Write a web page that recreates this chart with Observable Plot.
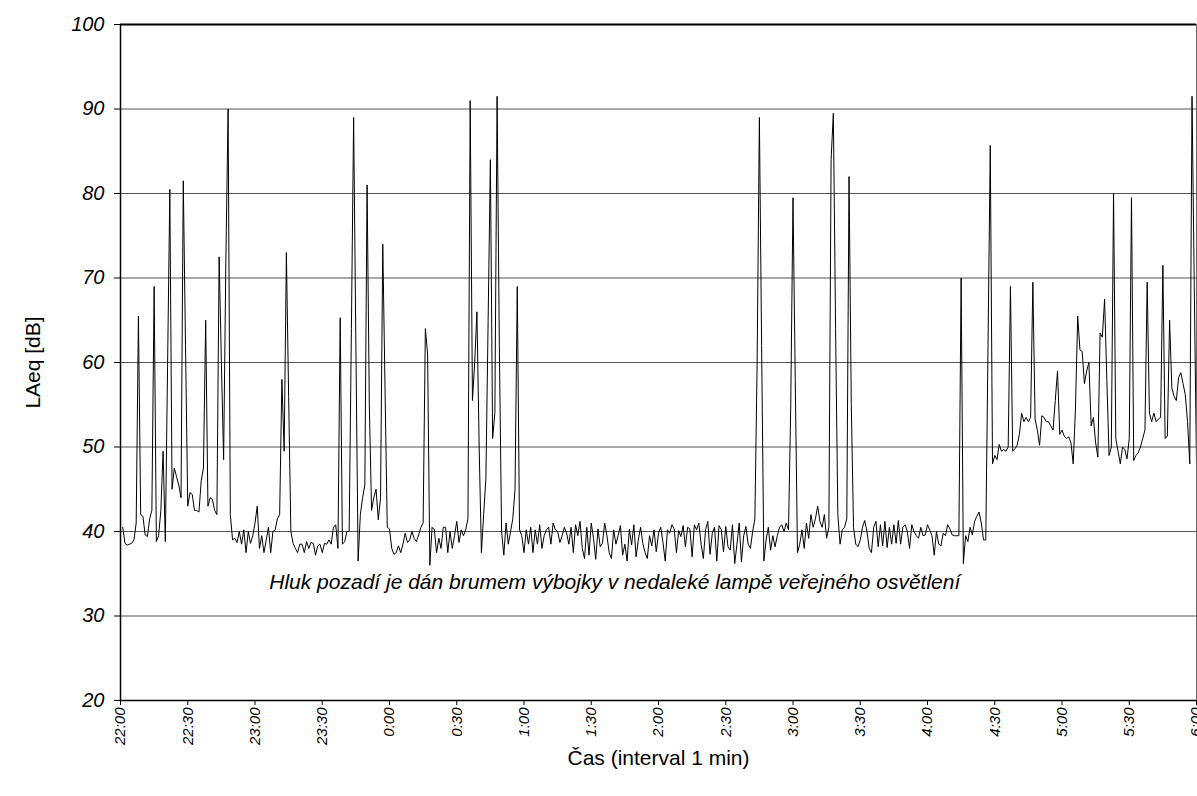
<!DOCTYPE html>
<html>
<head>
<meta charset="utf-8">
<script src="https://cdn.jsdelivr.net/npm/d3@7"></script>
<script src="https://cdn.jsdelivr.net/npm/@observablehq/plot@0.6"></script>
<style>
  body { margin: 0; background: #fff; }
  svg { font-family: "Liberation Sans", Arial, sans-serif; }
</style>
</head>
<body>
<div id="chart"></div>
<script>
// minutes after 22:00, one reading per minute
const startMinute = 1;
const laeq = [
  40.5, 38.6, 38.4, 38.5, 38.6, 39, 41, 65.5, 42, 41.8,
  39.6, 39.4, 41.5, 42.5, 69, 38.8, 39.5, 42.5, 49.5, 38.8,
  59.5, 80.5, 45, 47.5, 46.5, 45.5, 44, 81.5, 62, 43,
  44.6, 44.4, 42.5, 42.5, 42.3, 46, 47.5, 65, 43, 44,
  43.8, 42.5, 42, 72.5, 60, 48.5, 72, 90, 42, 39,
  39.2, 38.7, 40, 38.5, 40.2, 37.5, 40, 38.6, 39.5, 41,
  43, 38, 39.5, 37.5, 39, 40.5, 37.5, 40, 40.2, 41.5,
  42, 58, 49.5, 73, 56, 40, 38.6, 38, 37.5, 38.5,
  38.5, 37.5, 38.8, 38, 38.7, 38.6, 37.2, 38.3, 38.5, 37.5,
  38.6, 38.5, 39, 38.5, 40.5, 40.8, 38, 65.3, 38.5, 38.8,
  40, 40, 64, 89, 62, 36.5, 42, 44, 45.5, 81,
  55, 42.5, 44, 45, 41.4, 44, 74, 57, 40.5, 40.3,
  38, 37.3, 37.5, 38.3, 37.5, 38.5, 39.8, 38.7, 39, 40,
  39.2, 38.8, 39.6, 40.5, 41, 64, 61, 36, 40.5, 40.2,
  37.5, 39.2, 38, 40.5, 40.5, 37.5, 40, 38, 39.5, 41.2,
  38.7, 40.2, 39.5, 40.2, 41.5, 91, 55.5, 60, 66, 50,
  37.5, 42, 46.3, 65, 84, 51, 54, 91.5, 62, 40,
  37.2, 41, 38.5, 40, 41.5, 45, 69, 40.2, 39.5, 37.5,
  40.2, 38.5, 40.5, 37.5, 40.2, 38.5, 40.8, 38, 39.5, 40.2,
  40.5, 38.5, 41, 40.2, 40, 38.7, 39.5, 40.5, 39.8, 38.5,
  40.5, 37.5, 40.8, 39.5, 41.2, 38, 36.8, 40.5, 37.2, 41,
  39.2, 36.7, 40.3, 38.2, 38.6, 41, 39.5, 37.5, 36.8, 40.2,
  38.5, 39.5, 40.7, 37.2, 38.5, 36.5, 40.3, 38.4, 40.8, 37,
  39, 40.5, 38.6, 37.5, 36.8, 39.5, 38.3, 40.2, 37.6, 39.8,
  40.5, 38.7, 36.5, 40.2, 39.8, 40.8, 40.3, 37.5, 40.1, 39.4,
  40.7, 38.2, 40.5, 40.3, 37, 40.8, 40.2, 41, 38.5, 36.8,
  40.2, 41.2, 37.3, 39.8, 40.5, 36.5, 40.7, 40.2, 37.6, 40.6,
  38.2, 37.8, 40.8, 36.2, 38.5, 41, 36.4, 39.5, 40.6, 38.5,
  38, 40, 41.5, 60, 89, 62, 36.5, 39, 40.5, 37.8,
  39.5, 38.2, 39.5, 40.5, 40.8, 40, 41, 40.2, 55, 79.5,
  58, 37.5, 38.5, 40.2, 38, 41, 39.2, 42, 40.5, 41.5,
  43, 41.2, 40.5, 42, 39.2, 40.5, 84, 89.5, 64, 42,
  38.5, 40.2, 40.5, 41.5, 82, 55, 40.5, 38.5, 38.2, 39,
  40.5, 41.3, 40, 38, 37.5, 40.5, 41.2, 38.2, 40.8, 38.3,
  41.2, 38.1, 40.5, 38.5, 40.8, 38.6, 41.3, 38.5, 40.5, 40.8,
  40, 38, 40.8, 40, 39.5, 39.2, 40.5, 39.5, 39.6, 40.8,
  40.2, 39.5, 37.2, 40, 38.5, 38.3, 39.8, 39.5, 40.8, 40.3,
  39.6, 39.5, 39.5, 39.5, 70, 36.2, 39.5, 38.8, 40.5, 39.6,
  41.2, 41.8, 42.3, 41, 39, 39, 62, 85.7, 48, 49,
  48.5, 50.3, 49.5, 49.7, 49.5, 50, 69, 49.5, 49.8, 50.2,
  51.5, 54, 53, 53.5, 53, 53.5, 69.5, 53.3, 52, 50.2,
  53.7, 53.5, 53, 53, 52.5, 52, 55.5, 59, 51.5, 52,
  51.3, 51, 51.2, 50.5, 48, 54.5, 65.5, 61.5, 61.3, 57.5,
  59, 60, 52.5, 53.5, 50.5, 48.8, 63.5, 63, 67.5, 58,
  49, 50, 80, 51, 49.5, 48, 50, 49.7, 48.6, 51,
  79.5, 48.4, 49, 49.3, 50, 51, 52, 69.5, 54, 53,
  54, 53, 53.3, 53.5, 71.5, 51, 51.3, 65, 57, 56,
  55.5, 58.2, 58.8, 57.5, 56.2, 53, 48, 91.5, 69, 48
];

const timeTicks = [0, 30, 60, 90, 120, 150, 180, 210, 240, 270, 300, 330, 360, 390, 420, 450, 480];
const timeTickLabels = ["22:00", "22:30", "23:00", "23:30", "0:00", "0:30", "1:00", "1:30", "2:00",
  "2:30", "3:00", "3:30", "4:00", "4:30", "5:00", "5:30", "6:00"];
const yTicks = [20, 30, 40, 50, 60, 70, 80, 90, 100];

const xTitle = "Čas (interval 1 min)";
const yTitle = "LAeq [dB]";
const note = "Hluk pozadí je dán brumem výbojky v nedaleké lampě veřejného osvětlení";
const noteAt = { t: 220.5, v: 34 };

const data = laeq.map((v, i) => ({ t: startMinute + i, v }));

const chart = Plot.plot({
  width: 1197,
  height: 796,
  marginLeft: 120,
  marginRight: 1,
  marginTop: 24,
  marginBottom: 96,
  style: { fontFamily: "'Liberation Sans', Arial, sans-serif", background: "#fff" },
  x: { domain: [0, 480] },
  y: { domain: [20, 100] },
  marks: [
    Plot.ruleY(yTicks.slice(1, -1), { stroke: "#555", strokeWidth: 1 }),
    Plot.line(data, { x: "t", y: "v", stroke: "#000", strokeWidth: 1 }),
    Plot.ruleX([0], { stroke: "#000", strokeWidth: 1.5 }),
    Plot.ruleX([480], { stroke: "#666", strokeWidth: 1 }),
    Plot.ruleY([20], { stroke: "#000", strokeWidth: 1.5 }),
    Plot.ruleY([100], { stroke: "#000", strokeWidth: 2 }),
    Plot.axisY(yTicks, {
      tickSize: 6, tickPadding: 10, fontSize: 20, fontStyle: "italic",
      label: null, stroke: "#000"
    }),
    Plot.axisX(timeTicks, {
      tickRotate: -90, tickSize: 5, tickPadding: 2, fontSize: 15, fontStyle: "italic",
      tickFormat: (d) => timeTickLabels[timeTicks.indexOf(d)], label: null
    }),
    Plot.text([note], {
      x: () => noteAt.t, y: () => noteAt.v, text: (d) => d,
      fontStyle: "italic", fontSize: 21, fill: "#000"
    }),
    Plot.text([xTitle], {
      frameAnchor: "bottom", lineAnchor: "middle", textAnchor: "middle",
      dy: 58, text: (d) => d, fontSize: 21, fill: "#000"
    }),
    Plot.text([yTitle], {
      frameAnchor: "left", lineAnchor: "middle", textAnchor: "middle",
      dx: -87, rotate: -90, text: (d) => d, fontSize: 21, fill: "#000"
    })
  ]
});

document.getElementById("chart").appendChild(chart);
</script>
</body>
</html>
